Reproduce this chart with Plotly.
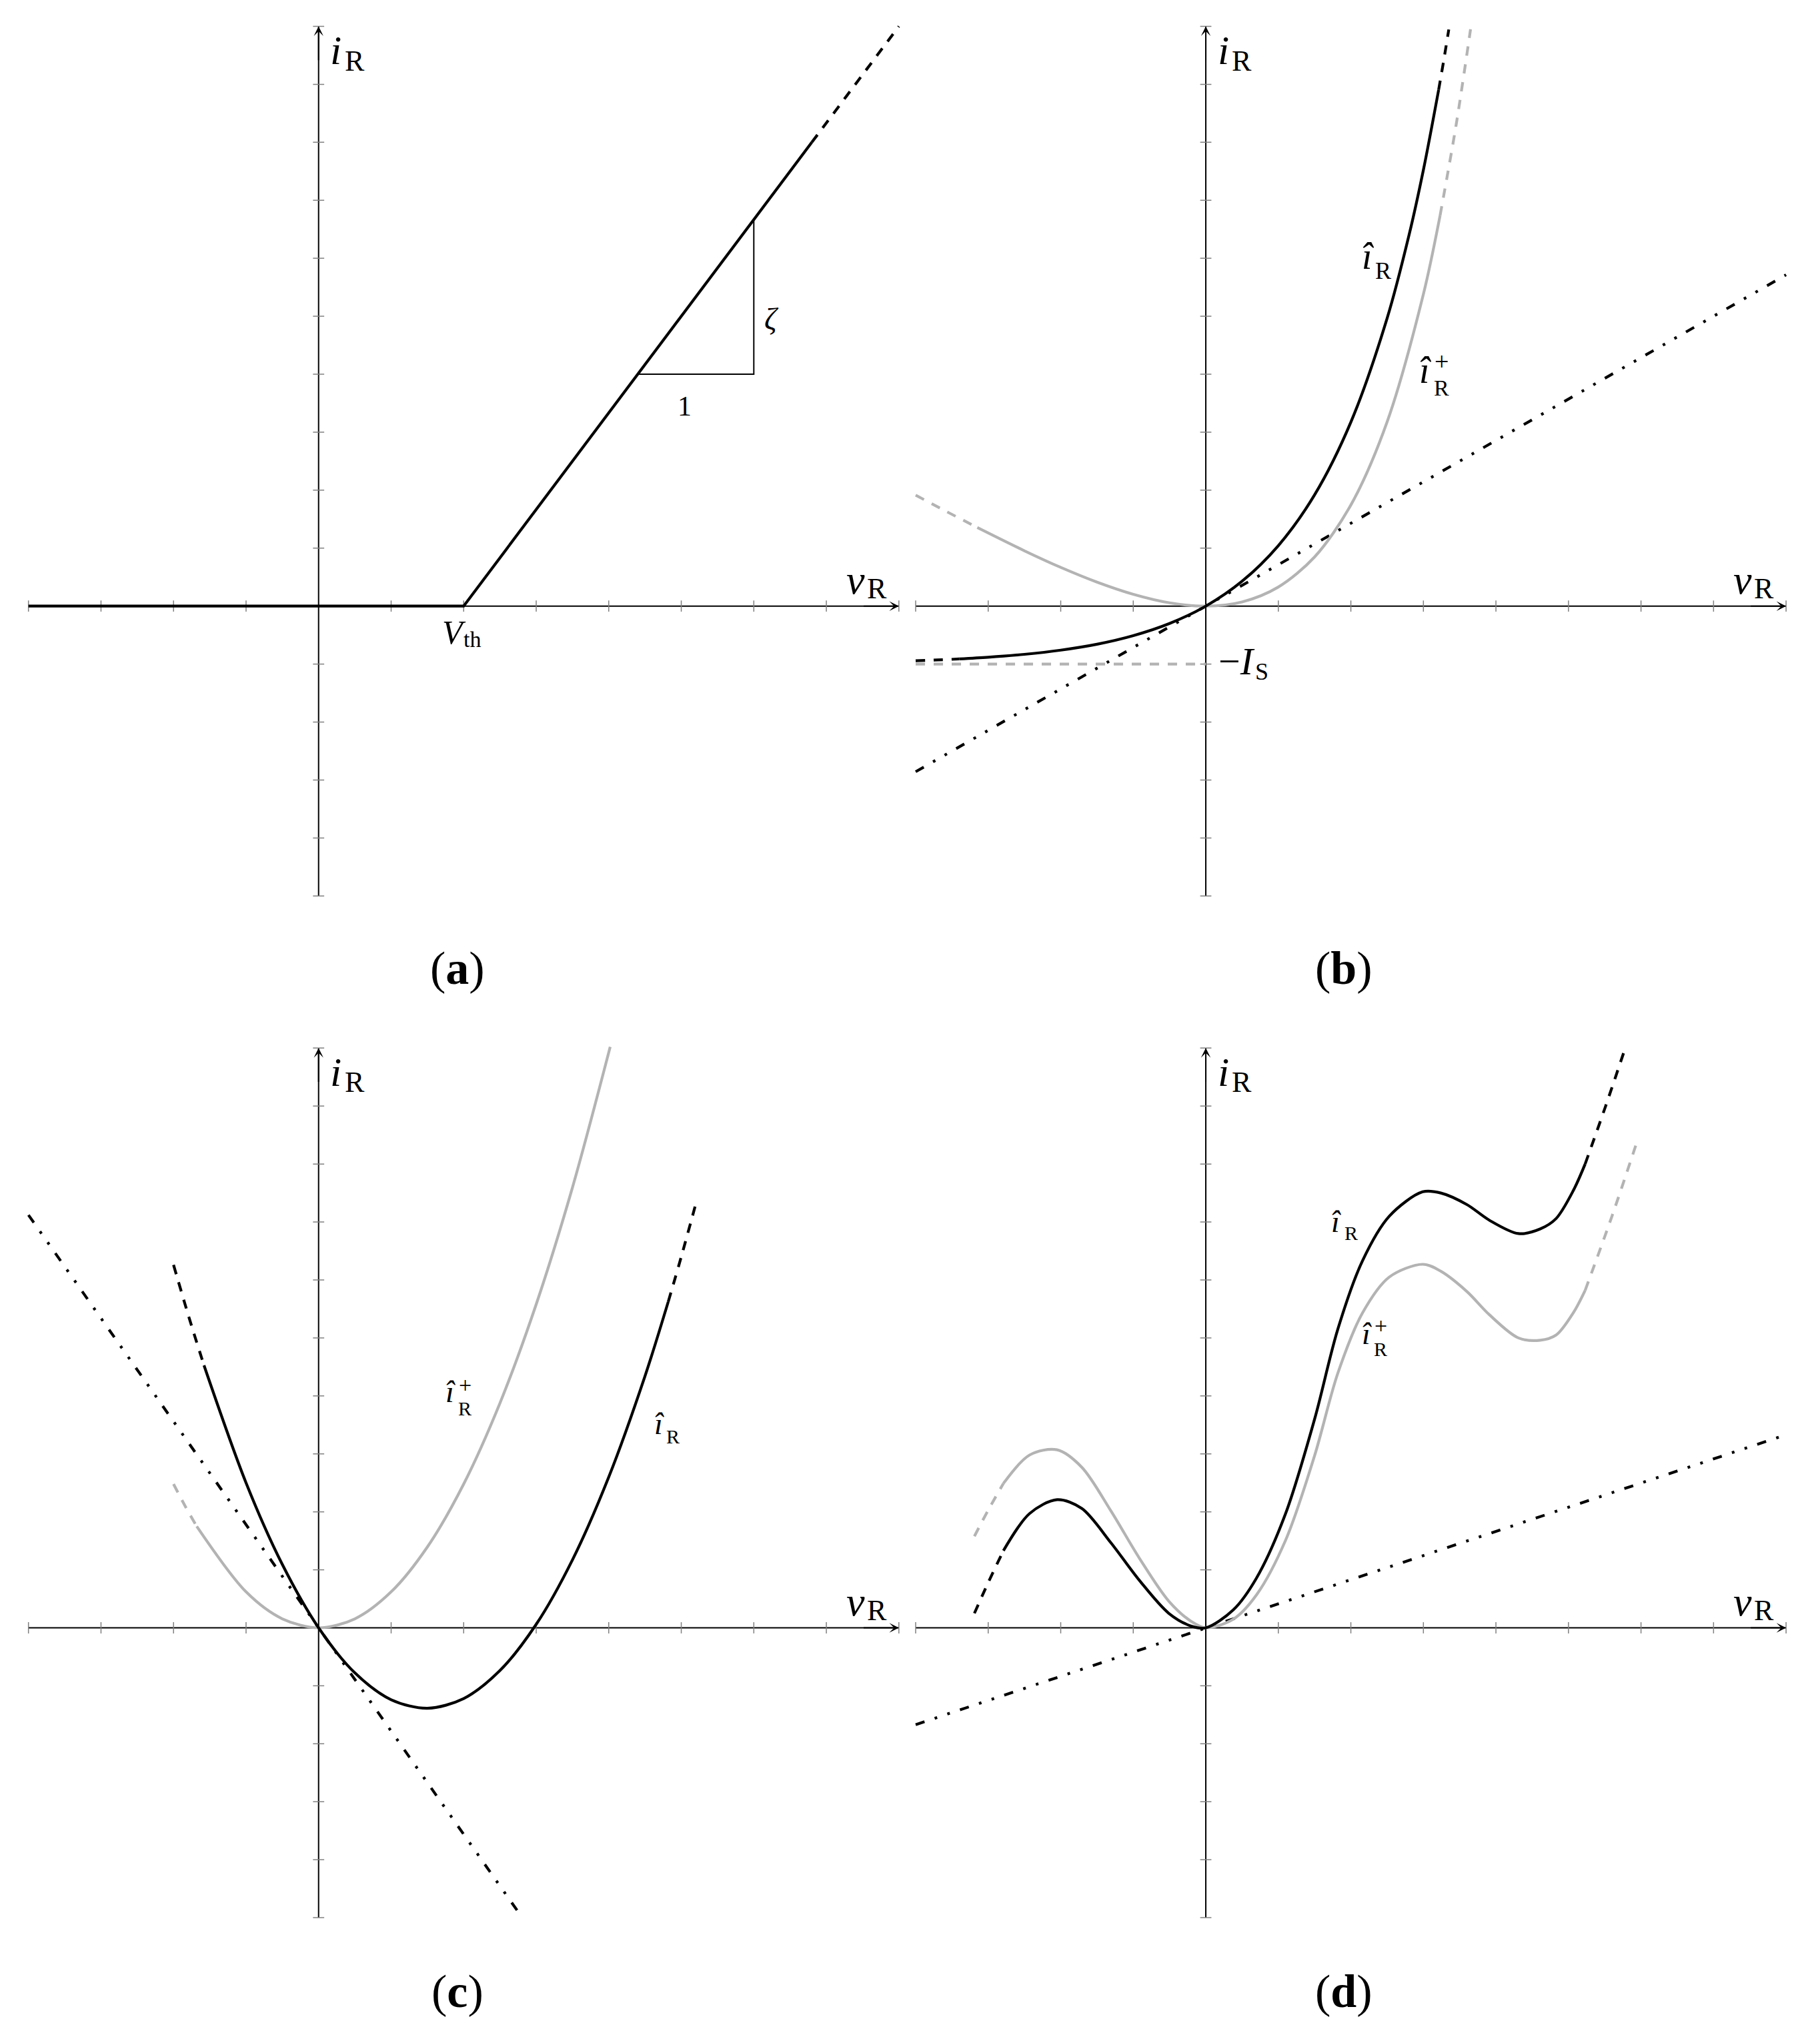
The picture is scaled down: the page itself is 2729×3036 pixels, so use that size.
import plotly.graph_objects as go

# ---------------- data ----------------
X_TICKS = [-4, -3, -2, -1, 1, 2, 3, 4, 5, 6, 7, 8]
Y_TICKS = [-5, -4, -3, -2, -1, 1, 2, 3, 4, 5, 6, 7, 8, 9, 10]
V_LIMITS = [-4, 8]
I_LIMITS = [-5, 10]

# (a) piecewise-linear characteristic
A_V = [-4.0, 2.0, 6.8, 8.0]
A_I = [0.0, 0.0, 8.0, 10.0]
A_SOLID = (-4.0, 6.8)
A_TRI_V = [4.4, 6.0, 6.0]
A_TRI_I = [4.0, 4.0, 6.667]

# (b) diode-like characteristic
B_V = [-4.0, -3.7, -3.4, -3.0, -2.5, -2.0, -1.5, -1.0, -0.5, 0.0, 0.5, 1.0, 1.5,
       2.0, 2.5, 2.8, 3.0, 3.21, 3.28, 3.35]
B_I = [-0.943, -0.929, -0.912, -0.883, -0.832, -0.760, -0.658, -0.510, -0.300, 0.0,
       0.429, 1.043, 1.919, 3.173, 4.964, 6.389, 7.524, 8.904, 9.41, 9.945]
B_SOLID = (-3.4, 3.21)
B_PLUS_V = [-4.0, -3.6, -3.15, -2.5, -2.0, -1.5, -1.0, -0.5, 0.0, 0.5, 1.0, 1.5, 2.0,
            2.5, 3.0, 3.23, 3.45, 3.65]
B_PLUS_I = [1.914, 1.648, 1.355, 0.954, 0.668, 0.414, 0.204, 0.057, 0.0, 0.072, 0.329,
            0.848, 1.744, 3.178, 5.381, 6.738, 8.291, 9.95]
B_PLUS_SOLID = (-3.15, 3.23)
B_TAN_V = [-4.0, 8.0]
B_TAN_I = [-2.857, 5.714]
B_IS_V = [-4.0, 0.0]
B_IS_I = [-1.0, -1.0]

# (c) parabola-like characteristic
C_V = [-2.0, -1.79, -1.58, -1.0, -0.5, 0.0, 0.5, 1.0, 1.5, 2.0, 2.5, 3.0, 3.5, 4.0,
       4.5, 4.82, 5.0, 5.19]
C_I = [6.26, 5.366, 4.527, 2.50, 1.0925, 0.0, -0.7775, -1.24, -1.3875, -1.22, -0.7375,
       0.06, 1.1725, 2.60, 4.3425, 5.623, 6.40, 7.265]
C_SOLID = (-1.58, 4.82)
C_PLUS_V = [-2.0, -1.84, -1.68, -1.0, -0.5, 0.0, 0.5, 1.0, 1.5, 2.0, 2.5, 3.0, 3.5, 4.02]
C_PLUS_I = [2.48, 2.099, 1.75, 0.62, 0.155, 0.0, 0.155, 0.62, 1.395, 2.48, 3.875, 5.58,
            7.595, 10.02]
C_PLUS_SOLID = (-1.68, 4.02)
C_TAN_V = [-4.0, 2.78]
C_TAN_I = [7.12, -4.95]

# (d) oscillating characteristic
D_V = [-3.19, -3.0, -2.79, -2.43, -2.05, -1.71, -1.31, -0.91, -0.51, -0.2, 0.0, 0.38,
       0.70, 1.10, 1.50, 1.82, 2.16, 2.53, 2.99, 3.24, 3.60, 3.91, 4.31, 4.61, 4.83,
       5.07, 5.23, 5.51, 5.78]
D_I = [0.25, 0.78, 1.33, 1.97, 2.21, 2.06, 1.47, 0.81, 0.25, 0.03, 0.0, 0.31, 0.86,
       1.97, 3.60, 5.15, 6.33, 7.10, 7.52, 7.50, 7.30, 7.03, 6.80, 6.88, 7.06, 7.55,
       8.00, 8.99, 9.99]
D_SOLID = (-2.79, 5.23)
D_PLUS_V = [-3.19, -3.0, -2.79, -2.43, -2.05, -1.71, -1.31, -0.91, -0.51, -0.2, 0.0,
            0.38, 0.70, 1.10, 1.50, 1.82, 2.16, 2.53, 2.99, 3.24, 3.60, 3.91, 4.31,
            4.61, 4.83, 5.07, 5.23, 5.60, 5.96]
D_PLUS_I = [1.58, 2.03, 2.49, 2.98, 3.07, 2.77, 2.02, 1.19, 0.46, 0.11, 0.0, 0.15, 0.57,
            1.51, 2.97, 4.39, 5.43, 6.05, 6.27, 6.15, 5.80, 5.40, 5.00, 4.96, 5.05,
            5.44, 5.82, 7.10, 8.44]
D_PLUS_SOLID = (-2.79, 5.23)
D_TAN_V = [-4.0, 8.0]
D_TAN_I = [-1.67, 3.33]

CAPTIONS = ["a", "b", "c", "d"]

# ---------------- style ----------------
FONT = "Liberation Serif"
BLACK = "#000000"
GRAY = "#b3b3b3"
TICK_GRAY = "#808080"
DASH = "14px,13px"
DASHDOTDOT = "14px,16px,4px,16px,4px,16px"
CURVE_W = 4.2

X_RANGE = [-4.1, 8.1]
Y_RANGE = [-5.1, 10.1]
DOM_X = {1: [0.011653, 0.497874], 2: [0.499121, 0.985343],
         3: [0.011653, 0.497874], 4: [0.499121, 0.985343]}
DOM_Y = {1: [0.554677, 0.989855], 2: [0.554677, 0.989855],
         3: [0.050132, 0.485310], 4: [0.050132, 0.485310]}

fig = go.Figure()


def sfx(n):
    return "" if n == 1 else str(n)


def add_line(n, xs, ys, color, width, dash="solid", shape="linear"):
    fig.add_trace(go.Scatter(
        x=xs, y=ys, mode="lines",
        line=dict(color=color, width=width, dash=dash, shape=shape, smoothing=0.9),
        xaxis="x" + sfx(n), yaxis="y" + sfx(n),
        hoverinfo="skip", showlegend=False))


def seg(v, i, lo, hi):
    pts = [(a, b) for a, b in zip(v, i) if lo - 1e-9 <= a <= hi + 1e-9]
    return [p[0] for p in pts], [p[1] for p in pts]


def curve(n, v, i, solid, color, shape="spline"):
    lo, hi = solid
    parts = [(seg(v, i, -1e9, lo), DASH), (seg(v, i, lo, hi), "solid"),
             (seg(v, i, hi, 1e9), DASH)]
    for (xs, ys), dash in parts:
        if len(xs) >= 2:
            add_line(n, xs, ys, color, CURVE_W, dash, shape)


def txt(n, x, y, s, size, xshift=0, yshift=0):
    fig.add_annotation(x=x, y=y, xref="x" + sfx(n), yref="y" + sfx(n), text=s,
                       showarrow=False, xanchor="center", yanchor="middle",
                       xshift=xshift, yshift=yshift,
                       font=dict(family=FONT, size=size, color=BLACK))


def hat_label(n, x, y, size, rsize, rdx, rdy, plus=None, psize=30):
    txt(n, x, y, "<i>î</i>", size)
    txt(n, x, y, "R", rsize, xshift=rdx, yshift=-rdy)
    if plus is not None:
        txt(n, x, y, "+", psize, xshift=plus[0], yshift=plus[1])


# ---------------- axes (drawn as data lines with arrow tips) ----------------
for n in (1, 2, 3, 4):
    add_line(n, V_LIMITS, [0, 0], BLACK, 2)
    add_line(n, [0, 0], I_LIMITS, BLACK, 2)
    fig.add_trace(go.Scatter(
        x=X_TICKS, y=[0] * len(X_TICKS), mode="markers",
        marker=dict(symbol="line-ns-open", size=12, color=TICK_GRAY,
                    line=dict(color=TICK_GRAY, width=1.5)),
        xaxis="x" + sfx(n), yaxis="y" + sfx(n), hoverinfo="skip", showlegend=False))
    fig.add_trace(go.Scatter(
        x=[0] * len(Y_TICKS), y=Y_TICKS, mode="markers",
        marker=dict(symbol="line-ew-open", size=12, color=TICK_GRAY,
                    line=dict(color=TICK_GRAY, width=1.5)),
        xaxis="x" + sfx(n), yaxis="y" + sfx(n), hoverinfo="skip", showlegend=False))
    xr, yr = "x" + sfx(n), "y" + sfx(n)
    fig.add_annotation(x=V_LIMITS[1], y=0, ax=V_LIMITS[1] - 0.5, ay=0, xref=xr, yref=yr,
                       axref=xr, ayref=yr, text="", showarrow=True, arrowhead=3,
                       arrowsize=1.2, arrowwidth=2, arrowcolor=BLACK, standoff=0)
    fig.add_annotation(x=0, y=I_LIMITS[1], ax=0, ay=I_LIMITS[1] - 0.6, xref=xr, yref=yr,
                       axref=xr, ayref=yr, text="", showarrow=True, arrowhead=3,
                       arrowsize=1.2, arrowwidth=2, arrowcolor=BLACK, standoff=0)
    # axis labels
    txt(n, 0.24, 9.59, "<i>i</i>", 62)
    txt(n, 0.24, 9.59, "R", 44, xshift=28, yshift=-16)
    txt(n, 7.40, 0.46, "<i>v</i>", 62)
    txt(n, 7.40, 0.46, "R", 44, xshift=32, yshift=-14)

# ---------------- (a) ----------------
curve(1, A_V, A_I, A_SOLID, BLACK, shape="linear")
add_line(1, A_TRI_V, A_TRI_I, BLACK, 2)
txt(1, 1.87, -0.45, "<i>V</i>", 50)
txt(1, 1.87, -0.45, "th", 34, xshift=27, yshift=-11)
txt(1, 5.05, 3.45, "1", 42)
txt(1, 6.25, 4.95, "<i>ζ</i>", 46)

# ---------------- (b) ----------------
add_line(2, B_IS_V, B_IS_I, GRAY, CURVE_W, DASH)
add_line(2, B_TAN_V, B_TAN_I, BLACK, CURVE_W, DASHDOTDOT)
curve(2, B_PLUS_V, B_PLUS_I, B_PLUS_SOLID, GRAY)
curve(2, B_V, B_I, B_SOLID, BLACK)
hat_label(2, 2.234, 6.037, 56, 36, 23, 22)
hat_label(2, 3.025, 4.070, 56, 34, 24, 27, plus=(24, 13), psize=38)
txt(2, 0.423, -0.947, "−<i>I</i>", 58)
txt(2, 0.423, -0.947, "S", 36, xshift=38, yshift=-16)

# ---------------- (c) ----------------
add_line(3, C_TAN_V, C_TAN_I, BLACK, CURVE_W, DASHDOTDOT)
curve(3, C_PLUS_V, C_PLUS_I, C_PLUS_SOLID, GRAY)
curve(3, C_V, C_I, C_SOLID, BLACK)
hat_label(3, 1.814, 4.067, 46, 30, 22, 25, plus=(22, 10), psize=34)
hat_label(3, 4.692, 3.525, 46, 30, 21, 19)

# ---------------- (d) ----------------
add_line(4, D_TAN_V, D_TAN_I, BLACK, CURVE_W, DASHDOTDOT)
curve(4, D_PLUS_V, D_PLUS_I, D_PLUS_SOLID, GRAY)
curve(4, D_V, D_I, D_SOLID, BLACK)
hat_label(4, 1.793, 7.012, 46, 30, 23, 17)
hat_label(4, 2.216, 5.068, 46, 30, 21, 23, plus=(21, 12), psize=34)

# ---------------- captions ----------------
CAP_POS = {"a": (0.2514, 0.52206), "b": (0.7382, 0.52206),
           "c": (0.2514, 0.01647), "d": (0.7382, 0.01647)}
for c in CAPTIONS:
    px, py = CAP_POS[c]
    fig.add_annotation(x=px, y=py, xref="paper", yref="paper", text="(<b>%s</b>)" % c,
                       showarrow=False, xanchor="center", yanchor="middle",
                       font=dict(family=FONT, size=70, color=BLACK))

# ---------------- layout ----------------
layout = dict(width=2729, height=3036, margin=dict(l=0, r=0, t=0, b=0),
              paper_bgcolor="white", plot_bgcolor="white", showlegend=False)
for n in (1, 2, 3, 4):
    layout["xaxis" + sfx(n)] = dict(domain=DOM_X[n], range=X_RANGE, visible=False,
                                    anchor="y" + sfx(n), fixedrange=True)
    layout["yaxis" + sfx(n)] = dict(domain=DOM_Y[n], range=Y_RANGE, visible=False,
                                    anchor="x" + sfx(n), fixedrange=True)
fig.update_layout(**layout)

fig.write_html("out.html", config={"displayModeBar": False},
               post_script="document.body.style.margin='0';"
                           "document.body.style.padding='0';")
